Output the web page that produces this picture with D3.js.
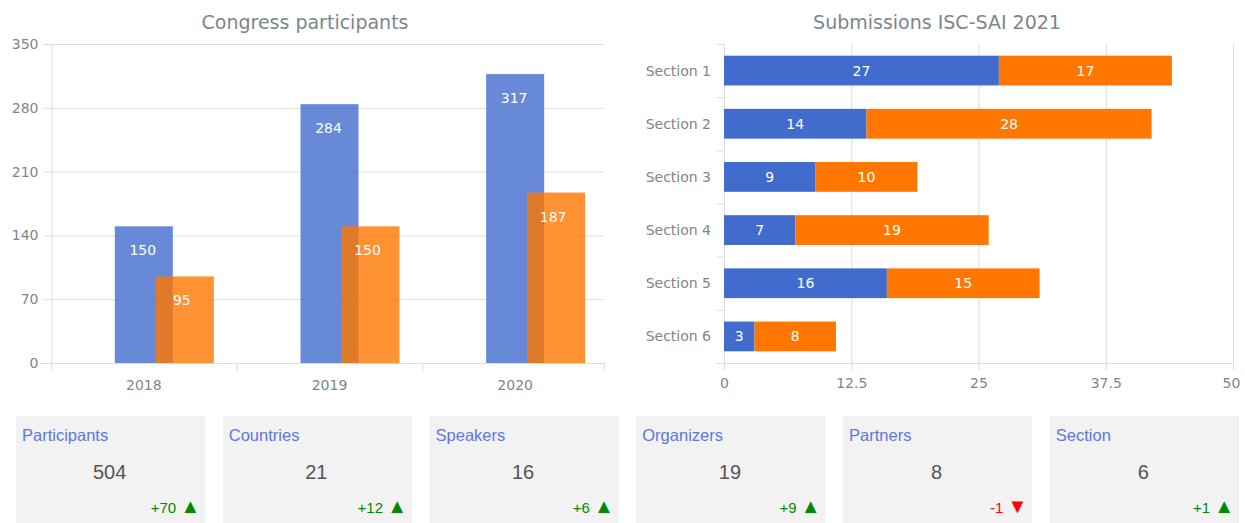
<!DOCTYPE html>
<html>
<head>
<meta charset="utf-8">
<script src="https://cdn.jsdelivr.net/npm/d3@7"></script>
<style>
  body { margin: 0; background: #fff; }
  svg { display: block; }
</style>
</head>
<body>
<svg id="chart" width="1245" height="523"></svg>
<script>
// data
const years = ["2018", "2019", "2020"];
const participantsA = [150, 284, 317];
const participantsB = [95, 150, 187];
const yTicks = [0, 70, 140, 210, 280, 350];

const sections = ["Section 1", "Section 2", "Section 3", "Section 4", "Section 5", "Section 6"];
const submissionsA = [27, 14, 9, 7, 16, 3];
const submissionsB = [17, 28, 10, 19, 15, 8];
const xTicks = [0, 12.5, 25, 37.5, 50];

const kpiNames = ["Participants", "Countries", "Speakers", "Organizers", "Partners", "Section"];
const kpiValues = [504, 21, 16, 19, 8, 6];
const kpiChanges = [70, 12, 6, 9, -1, 1];

const BLUE = "#416ccd", ORANGE = "#ff7700";
const TXT = "#7c868e", GRID = "#dcdcdc", FONT = "DejaVu Sans, Verdana, sans-serif";
const SANS = "'Liberation Sans', Arial, sans-serif";

const svg = d3.select("#chart");

// ---------- left: Congress participants ----------
const L = { left: 51, right: 608, top: 44, bottom: 363 };
const x1 = d3.scaleBand().domain(years).range([L.left, L.right]);
const y1 = d3.scaleLinear().domain([0, 350]).range([L.bottom, L.top]);
const bw = 58, off = 41;

svg.append("text")
  .attr("x", 305).attr("y", 29)
  .attr("text-anchor", "middle")
  .style("font", `19px ${FONT}`).style("fill", TXT)
  .text("Congress participants");

const gL = svg.append("g");
gL.selectAll("line.grid").data(yTicks.slice(1)).enter().append("line")
  .attr("x1", L.left).attr("x2", L.right - 4)
  .attr("y1", d => y1(d) + 0.5).attr("y2", d => y1(d) + 0.5)
  .attr("stroke", GRID);

const yAxis1 = gL.append("g").attr("transform", `translate(${L.left + 0.5},0)`)
  .call(d3.axisLeft(y1).tickValues(yTicks).tickSize(8).tickPadding(5));
const xAxis1 = gL.append("g").attr("transform", `translate(0,${L.bottom + 0.5})`)
  .call(d3.axisBottom(x1).tickSize(0).tickPadding(17));
[yAxis1, xAxis1].forEach(a => {
  a.select(".domain").attr("stroke", GRID);
  a.selectAll("line").attr("stroke", GRID);
  a.selectAll("text").style("font", `14px ${FONT}`).style("fill", TXT);
});
xAxis1.select(".domain").attr("d", `M${L.left - 11},0H${L.right - 4}`);
// category tick marks at band edges
gL.selectAll("line.ctick").data(d3.range(years.length + 1)).enter().append("line")
  .attr("x1", i => L.left + i * x1.step() - (i === years.length ? 4 : 0) + 0.5)
  .attr("x2", i => L.left + i * x1.step() - (i === years.length ? 4 : 0) + 0.5)
  .attr("y1", L.bottom).attr("y2", L.bottom + 8)
  .attr("stroke", GRID);

const barsL = years.map((y, i) => ({ year: y, a: participantsA[i], b: participantsB[i] }));
const gBars = gL.append("g");
gBars.selectAll("rect.a").data(barsL).enter().append("rect")
  .attr("x", d => x1(d.year) + x1.bandwidth() / 2 - bw / 2)
  .attr("y", d => y1(d.a)).attr("width", bw)
  .attr("height", d => y1(0) - y1(d.a))
  .attr("fill", BLUE).attr("opacity", 0.8);
gBars.selectAll("rect.b").data(barsL).enter().append("rect")
  .attr("x", d => x1(d.year) + x1.bandwidth() / 2 - bw / 2 + off)
  .attr("y", d => y1(d.b)).attr("width", bw)
  .attr("height", d => y1(0) - y1(d.b))
  .attr("fill", ORANGE).attr("opacity", 0.8);
gBars.selectAll("text.a").data(barsL).enter().append("text")
  .attr("x", d => x1(d.year) + x1.bandwidth() / 2 - 1)
  .attr("y", d => y1(d.a) + 29)
  .attr("text-anchor", "middle")
  .style("font", `14px ${FONT}`).style("fill", "#fff")
  .text(d => d.a);
gBars.selectAll("text.b").data(barsL).enter().append("text")
  .attr("x", d => x1(d.year) + x1.bandwidth() / 2 + off - 3)
  .attr("y", d => y1(d.b) + 29)
  .attr("text-anchor", "middle")
  .style("font", `14px ${FONT}`).style("fill", "#fff")
  .text(d => d.b);

// ---------- right: Submissions ----------
const R = { left: 724, right: 1233, top: 44, bottom: 363 };
const x2 = d3.scaleLinear().domain([0, 50]).range([R.left, R.right]);
const y2 = d3.scaleBand().domain(sections).range([R.top, R.bottom])
  .paddingInner(0.44).paddingOuter(0.22);

svg.append("text")
  .attr("x", 937).attr("y", 29)
  .attr("text-anchor", "middle")
  .style("font", `19px ${FONT}`).style("fill", TXT)
  .text("Submissions ISC-SAI 2021");

const gR = svg.append("g");
gR.selectAll("line.grid").data(xTicks.slice(1)).enter().append("line")
  .attr("x1", d => x2(d) + 0.5).attr("x2", d => x2(d) + 0.5)
  .attr("y1", R.top).attr("y2", R.bottom)
  .attr("stroke", GRID);

const xAxis2 = gR.append("g").attr("transform", `translate(0,${R.bottom + 0.5})`)
  .call(d3.axisBottom(x2).tickValues(xTicks).tickSize(7).tickPadding(8)
    .tickFormat(d3.format("")));
xAxis2.select(".domain").attr("d", `M${R.left - 8},0H${R.right}`).attr("stroke", GRID);
xAxis2.selectAll("line").attr("stroke", GRID);
xAxis2.selectAll("text").style("font", `14px ${FONT}`).style("fill", TXT);
xAxis2.selectAll(".tick").filter(d => d === 50).select("text").attr("dx", -2);

gR.append("line")
  .attr("x1", R.left + 0.5).attr("x2", R.left + 0.5)
  .attr("y1", R.top).attr("y2", R.bottom)
  .attr("stroke", GRID);
gR.selectAll("line.ctick").data(d3.range(sections.length + 1)).enter().append("line")
  .attr("x1", R.left - 7).attr("x2", R.left)
  .attr("y1", i => R.top + i * y2.step() + 0.5)
  .attr("y2", i => R.top + i * y2.step() + 0.5)
  .attr("stroke", GRID);
gR.selectAll("text.cat").data(sections).enter().append("text")
  .attr("x", R.left - 13)
  .attr("y", d => y2(d) + y2.bandwidth() / 2 + 5)
  .attr("text-anchor", "end")
  .style("font", `14px ${FONT}`).style("fill", TXT)
  .text(d => d);

const barsR = sections.map((s, i) => ({ sec: s, a: submissionsA[i], b: submissionsB[i] }));
gR.selectAll("rect.a").data(barsR).enter().append("rect")
  .attr("x", x2(0)).attr("y", d => y2(d.sec))
  .attr("width", d => x2(d.a) - x2(0)).attr("height", y2.bandwidth())
  .attr("fill", BLUE);
gR.selectAll("rect.b").data(barsR).enter().append("rect")
  .attr("x", d => x2(d.a)).attr("y", d => y2(d.sec))
  .attr("width", d => x2(d.a + d.b) - x2(d.a)).attr("height", y2.bandwidth())
  .attr("fill", ORANGE);
gR.selectAll("text.a").data(barsR).enter().append("text")
  .attr("x", d => (x2(0) + x2(d.a)) / 2)
  .attr("y", d => y2(d.sec) + y2.bandwidth() / 2 + 5)
  .attr("text-anchor", "middle")
  .style("font", `14px ${FONT}`).style("fill", "#fff")
  .text(d => d.a);
gR.selectAll("text.b").data(barsR).enter().append("text")
  .attr("x", d => (x2(d.a) + x2(d.a + d.b)) / 2)
  .attr("y", d => y2(d.sec) + y2.bandwidth() / 2 + 5)
  .attr("text-anchor", "middle")
  .style("font", `14px ${FONT}`).style("fill", "#fff")
  .text(d => d.b);

// ---------- KPI cards ----------
const cardX = d3.scaleBand().domain(kpiNames).range([16, 1239]).paddingInner(0.085);
const cards = svg.append("g").selectAll("g.card")
  .data(kpiNames.map((n, i) => ({ name: n, value: kpiValues[i], change: kpiChanges[i] })))
  .enter().append("g")
  .attr("transform", d => `translate(${cardX(d.name)},416)`);
const cw = cardX.bandwidth();
cards.append("rect").attr("width", cw).attr("height", 107).attr("fill", "#f2f2f2");
cards.append("text").attr("x", 6).attr("y", 25)
  .style("font", `16.5px ${SANS}`).style("fill", "#5b78e0")
  .text(d => d.name);
cards.append("text").attr("x", cw / 2 - 1).attr("y", 63)
  .attr("text-anchor", "middle")
  .style("font", `20px ${SANS}`).style("fill", "#555")
  .text(d => d.value);
const chg = cards.append("text").attr("x", cw - 5).attr("y", 97)
  .attr("text-anchor", "end")
  .style("font", `15px ${SANS}`)
  .style("fill", d => d.change >= 0 ? "#008a00" : "#ff0000");
chg.append("tspan").text(d => (d.change >= 0 ? "+" + d.change : "" + d.change) + " ");
chg.append("tspan").style("font-size", "20px")
  .text(d => d.change >= 0 ? "▲" : "▼");
</script>
</body>
</html>
